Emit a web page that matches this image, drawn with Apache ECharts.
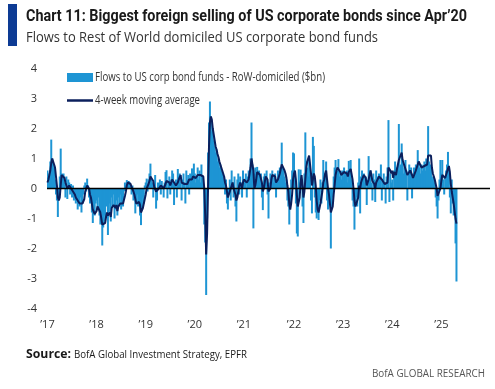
<!DOCTYPE html>
<html><head><meta charset="utf-8">
<script src="https://cdn.jsdelivr.net/npm/echarts@6/dist/echarts.min.js"></script>
<style>html,body{margin:0;padding:0;background:#fff}#c{width:495px;height:389px}</style>
</head><body><div id="c"></div>
<script>
// Weekly flows ($bn), RoW-domiciled US corp bond funds
const flows2017 = [0.6,0.2,0.5,0.9,1.63,1.0,0.7,0.8,0.3,-0.2,-0.4,-0.95,-0.3,0.4,1.33,0.5,0.35,0.5,0.2,-0.3,0.4,-0.35,0.3,0.2,-0.2,0.15,-0.3,0.1,-0.4,-0.2,-0.5,-0.3,-0.7,-0.4,-0.6,-0.3,-0.8,-0.5,-0.2,0.1,0.2,-0.1,0.33,0.1,-0.3,-0.5,-0.4,-0.8,-1.15,-0.6,-0.9,-0.5];
const flows2018 = [-0.4,-0.7,-0.3,-0.9,-1.2,-0.8,-1.9,-1.3,-0.9,-1.1,-0.6,-0.4,-1.55,-0.8,-0.5,-1.1,-0.3,-0.6,-0.2,-1.0,-0.7,-0.4,-0.9,-0.3,-0.6,-0.2,-0.7,-0.4,-0.6,-0.1,0.2,0.1,0.28,0.15,0.25,0.2,0.1,-0.2,0.1,-0.4,-0.3,-0.83,-0.5,-0.2,-0.6,-0.4,-0.9,-1.22,-0.7,-0.3,-0.5,0.1];
const flows2019 = [0.2,0.33,-0.1,0.3,0.5,0.83,0.3,0.2,-0.3,0.1,0.45,-0.67,-0.4,0.2,0.1,0.3,-0.2,0.25,0.1,-0.3,0.2,0.55,0.61,-0.33,0.2,0.4,-0.2,0.3,0.6,0.5,-0.55,0.2,0.3,-0.3,0.65,0.4,0.5,0.2,-0.4,0.3,0.5,0.2,-0.5,0.6,0.3,0.45,-0.2,0.5,0.3,0.67,0.2,0.83];
const flows2020 = [0.5,0.2,0.4,0.7,0.3,0.6,0.2,0.8,0.4,0.1,-1.2,-1.8,-3.55,-1.0,1.2,2.2,2.9,2.4,1.9,1.95,1.6,1.4,1.2,1.3,0.9,1.0,0.7,0.8,0.6,0.5,0.3,0.4,-0.2,0.3,-0.5,-0.7,-0.2,0.3,-0.4,0.6,0.2,-0.3,0.4,-0.6,-1.1,0.3,0.5,-0.2,0.4,0.2,-0.3,0.6];
const flows2021 = [0.3,0.2,0.5,-0.3,0.4,0.6,0.3,1.0,2.2,0.8,-1.33,0.5,0.7,0.4,0.72,0.3,0.6,0.2,0.5,-0.3,-0.72,0.4,0.5,0.3,0.6,-0.2,-1.0,0.2,0.5,0.4,0.6,0.2,0.4,0.5,-0.3,0.3,0.6,0.4,0.7,0.5,1.53,0.7,0.6,0.4,0.2,0.3,-0.4,-0.6,-1.2,-0.5,0.3,0.6,1.2];
const flows2022 = [1.17,0.4,-0.5,-1.5,-1.6,0.64,0.2,0.63,0.3,-0.6,-1.15,0.5,1.87,0.9,0.7,0.4,1.0,0.5,-0.4,-0.83,1.72,1.42,-0.3,-0.8,-1.0,-0.6,-1.05,-0.4,0.3,-0.5,0.2,0.95,0.3,0.5,0.9,-0.4,-0.7,-0.3,-0.5,-2.0,-0.6,-0.3,0.4,0.7,0.95,0.5,0.6,0.98,0.4,0.55,0.3,0.6];
const flows2023 = [0.4,0.7,0.3,0.5,0.6,0.2,0.92,0.5,0.95,0.3,-0.4,-0.6,-1.37,-0.5,-0.3,-0.6,0.2,1.0,-0.83,0.4,0.6,0.3,0.5,0.2,0.4,-0.55,0.3,1.08,0.5,0.6,0.2,-0.4,0.5,0.3,-0.45,0.6,0.4,0.2,0.5,0.3,0.8,-0.4,0.3,0.5,0.2,-0.5,0.4,0.7,2.28,-0.45,0.5,0.2];
const flows2024 = [0.3,-0.4,0.6,0.9,0.5,0.7,0.4,2.15,0.6,0.8,1.5,0.9,0.5,0.7,0.95,0.6,-0.4,0.5,0.8,0.6,0.7,-0.33,0.4,0.7,0.5,0.8,0.6,1.28,0.9,0.7,0.5,0.8,0.6,0.7,0.9,0.6,1.0,0.8,2.08,0.9,0.6,0.8,0.4,0.3,0.4,0.2,-0.3,-0.6,-1.0,-0.4,0.3,0.95];
const flows2025 = [0.5,0.95,0.3,-0.2,0.4,0.6,0.8,1.22,0.5,-0.3,-0.83,0.3,-0.5,-0.9,-0.8,-1.83,-3.1];

// 4-week moving average ($bn)
const ma2017 = [0.2,0.3,0.45,0.6,0.85,1.0,1.05,1.0,0.7,0.4,0.1,-0.3,-0.4,-0.3,0.1,0.45,0.5,0.45,0.35,0.2,0.2,0.0,0.0,0.1,0.05,0.0,-0.05,-0.1,-0.15,-0.2,-0.3,-0.35,-0.4,-0.45,-0.5,-0.5,-0.55,-0.5,-0.45,-0.35,-0.1,0.0,0.1,0.15,0.0,-0.2,-0.3,-0.5,-0.7,-0.75,-0.85,-0.8];
const ma2018 = [-0.75,-0.6,-0.55,-0.6,-0.8,-0.85,-1.2,-1.25,-1.2,-1.15,-0.95,-0.8,-0.9,-0.85,-0.8,-0.95,-0.65,-0.6,-0.55,-0.6,-0.65,-0.55,-0.75,-0.6,-0.55,-0.5,-0.45,-0.45,-0.5,-0.45,-0.25,-0.1,0.1,0.2,0.2,0.2,0.15,0.05,0.0,-0.1,-0.2,-0.35,-0.5,-0.45,-0.5,-0.45,-0.55,-0.8,-0.8,-0.65,-0.7,-0.35];
const ma2019 = [-0.2,0.0,0.05,0.15,0.25,0.4,0.45,0.45,0.25,0.05,0.1,-0.1,-0.15,-0.1,0.0,0.05,0.1,0.1,0.1,0.0,0.05,0.15,0.25,0.25,0.25,0.2,0.1,0.2,0.3,0.3,0.2,0.2,0.1,0.05,0.2,0.3,0.3,0.45,0.2,0.15,0.15,0.15,0.1,0.2,0.15,0.2,0.3,0.25,0.25,0.3,0.4,0.45];
const ma2020 = [0.4,0.35,0.4,0.45,0.4,0.5,0.45,0.5,0.5,0.4,0.0,-0.9,-2.2,-1.5,0.0,1.4,2.2,2.4,2.3,2.0,1.8,1.6,1.4,1.3,1.15,1.05,0.9,0.8,0.7,0.6,0.5,0.4,0.2,0.1,-0.1,-0.3,-0.3,-0.1,-0.1,0.1,0.2,0.0,0.0,-0.2,-0.4,-0.3,-0.1,0.1,0.2,0.2,0.0,0.2];
const ma2021 = [0.3,0.3,0.3,0.2,0.25,0.3,0.5,0.7,1.0,1.05,0.6,0.0,0.1,0.3,0.55,0.5,0.5,0.45,0.4,0.2,-0.1,0.0,0.2,0.4,0.45,0.3,-0.1,-0.1,0.0,0.3,0.45,0.4,0.4,0.4,0.2,0.25,0.3,0.3,0.5,0.55,0.8,0.85,0.85,0.6,0.5,0.35,0.1,-0.1,-0.5,-0.7,-0.5,-0.2,0.3];
const ma2022 = [0.5,0.6,0.3,-0.2,-0.6,-0.6,-0.3,0.2,0.45,0.1,-0.3,-0.1,0.3,0.7,0.9,1.0,1.1,0.8,0.5,0.1,0.3,0.5,0.4,0.1,-0.4,-0.7,-0.8,-0.75,-0.5,-0.3,-0.1,0.2,0.3,0.5,0.6,0.3,0.0,-0.2,-0.5,-0.8,-0.85,-0.6,-0.2,0.1,0.45,0.6,0.7,0.75,0.65,0.55,0.45,0.5];
const ma2023 = [0.5,0.55,0.5,0.5,0.5,0.4,0.55,0.55,0.65,0.65,0.3,0.0,-0.4,-0.6,-0.65,-0.55,-0.3,0.1,0.0,0.2,0.3,0.35,0.45,0.4,0.35,0.1,0.1,0.3,0.45,0.6,0.6,0.25,0.2,0.15,0.0,0.2,0.25,0.2,0.4,0.35,0.45,0.3,0.25,0.3,0.15,0.1,0.15,0.2,0.7,0.75,0.6,0.5];
const ma2024 = [0.6,0.35,0.55,0.6,0.45,0.65,0.6,0.95,0.9,1.0,1.2,0.95,0.95,0.9,0.65,0.7,0.45,0.4,0.4,0.6,0.65,0.45,0.35,0.35,0.3,0.6,0.65,0.8,0.9,0.85,0.85,0.7,0.65,0.65,0.75,0.7,0.8,0.8,1.1,1.1,1.05,1.1,0.7,0.5,0.45,0.3,0.15,0.0,-0.25,-0.3,-0.25,0.0];
const ma2025 = [0.25,0.45,0.5,0.4,0.35,0.3,0.4,0.66,0.75,0.55,0.15,-0.1,-0.3,-0.5,-0.55,-1.0,-1.17];

const yTicks = [-4,-3,-2,-1,0,1,2,3,4];
const firstWeek = [2017, 0, 6];   // first weekly observation (Friday)
const weeksOnAxis = 469;          // axis runs through end of 2025

const flows = [].concat(flows2017,flows2018,flows2019,flows2020,flows2021,flows2022,flows2023,flows2024,flows2025);
const ma = [].concat(ma2017,ma2018,ma2019,ma2020,ma2021,ma2022,ma2023,ma2024,ma2025);

const weeks = [];
const t0 = Date.UTC(firstWeek[0], firstWeek[1], firstWeek[2]);
for (let i = 0; i < weeksOnAxis; i++) weeks.push(new Date(t0 + i * 7 * 86400000).toISOString().slice(0, 10));

const BAR = '#1e95d4', NAVY = '#0b1f5c';
const mctx = document.createElement('canvas').getContext('2d');
function fitScale(text, font, width) { mctx.font = font; return width / mctx.measureText(text).width; }
function txt(text, x, y, font, fill, width, align) {
  return { type: 'text', x: x, y: y, originX: 0, originY: 0, scaleX: fitScale(text, font, width), silent: true,
    style: { text: text, font: font, fill: fill, align: align || 'left', verticalAlign: 'middle' } };
}

const T1 = "Chart 11: Biggest foreign selling of US corporate bonds since Apr\u201920";
const T2 = 'Flows to Rest of World domiciled US corporate bond funds';
const L1 = 'Flows to US corp bond funds - RoW-domiciled ($bn)';
const L2 = '4-week moving average';

const chart = echarts.init(document.getElementById('c'), null, { renderer: 'canvas' });
chart.setOption({
  animation: false,
  backgroundColor: '#fff',
  grid: { left: 47, right: 5, top: 68.5, bottom: 80.5, containLabel: false, outerBoundsMode: 'none' },
  xAxis: {
    type: 'category', data: weeks, boundaryGap: true,
    axisLine: { show: false, onZero: false }, axisTick: { show: false }, splitLine: { show: false },
    axisLabel: {
      margin: 11, color: '#333', fontFamily: 'Open Sans', fontSize: 11,
      interval: function (idx, v) { return v.slice(5, 7) === '01' && Number(v.slice(8, 10)) <= 7; },
      formatter: function (v) { return '\u2019' + v.slice(2, 4); }
    }
  },
  yAxis: {
    type: 'value', min: yTicks[0], max: yTicks[yTicks.length - 1], interval: 1,
    axisLine: { show: false }, axisTick: { show: false }, splitLine: { show: false },
    axisLabel: { margin: 10, color: '#333', fontFamily: 'Open Sans', fontSize: 11 }
  },
  series: [
    { name: L1, type: 'bar', data: flows, barWidth: 2, itemStyle: { color: BAR }, z: 2 },
    { name: L2, type: 'line', data: ma, showSymbol: false, symbol: 'none', lineStyle: { color: NAVY, width: 2 }, z: 4,
      markLine: { silent: true, symbol: ['none', 'none'], label: { show: false },
        lineStyle: { color: '#000', width: 1.3, type: 'solid' }, data: [{ yAxis: 0 }] } }
  ],
  graphic: [
    { type: 'rect', shape: { x: 8, y: 4, width: 9, height: 42 }, style: { fill: '#0d3b94' }, silent: true },
    txt(T1, 26, 17, 'bold 17px Roboto', '#1a1a1a', 441),
    txt(T2, 26, 38, '15px "Open Sans"', '#333', 352),
    { type: 'rect', shape: { x: 67, y: 73, width: 26, height: 9 }, style: { fill: BAR }, silent: true },
    txt(L1, 95, 77.5, '12px "Open Sans"', '#333', 230),
    { type: 'line', shape: { x1: 67, y1: 100.5, x2: 93, y2: 100.5 }, style: { stroke: NAVY, lineWidth: 2.5 }, silent: true },
    txt(L2, 95, 100.5, '12px "Open Sans"', '#333', 105),
    txt('Source:', 26, 355, 'bold 11.5px "Open Sans"', '#1a1a1a', 45),
    txt('BofA Global Investment Strategy, EPFR', 74, 355, '11.5px "Open Sans"', '#1a1a1a', 173),
    txt('BofA GLOBAL RESEARCH', 485, 374, '11.5px "Open Sans"', '#555', 113, 'right')
  ]
});
</script></body></html>
